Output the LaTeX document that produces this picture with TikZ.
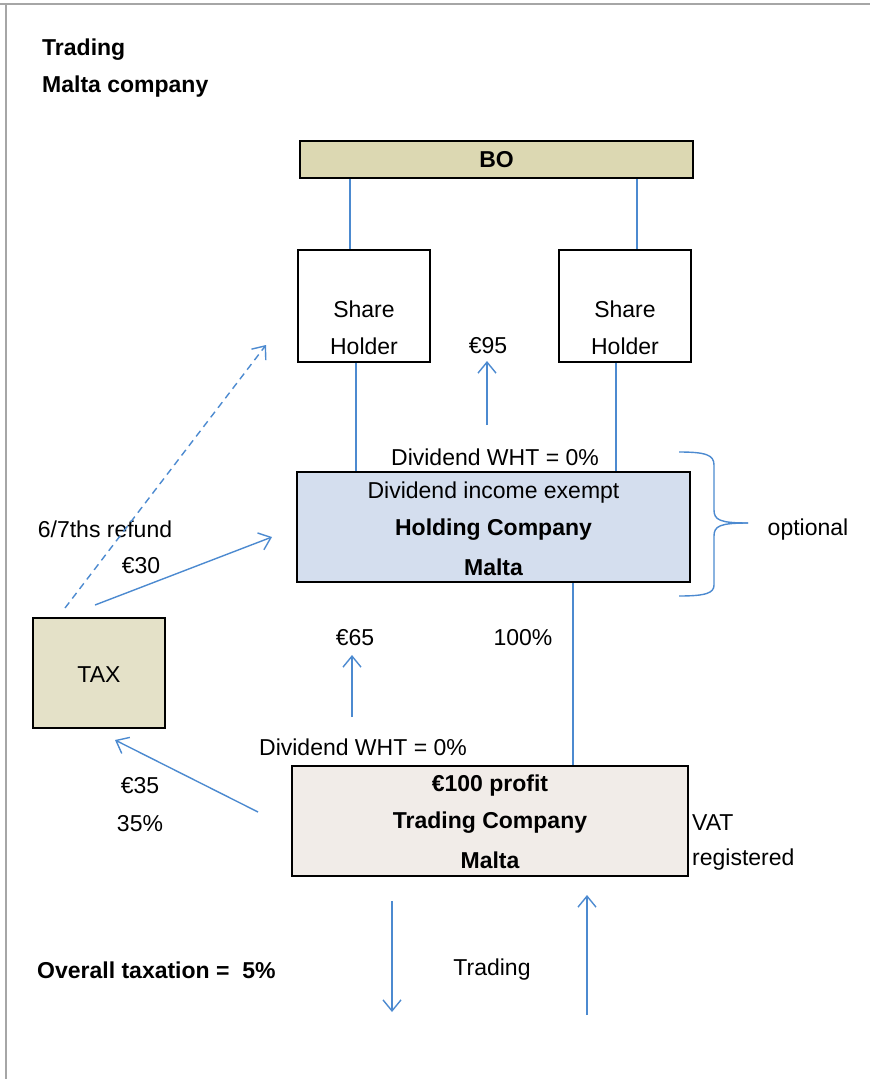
\documentclass[tikz,border=0pt]{standalone}
\usepackage{fontspec}
\setmainfont{Liberation Sans}
\usetikzlibrary{arrows.meta}
\definecolor{lnblue}{HTML}{4C8AD0}
\definecolor{khaki}{HTML}{DCD8B2}
\definecolor{khakilt}{HTML}{E4E1C8}
\definecolor{hcblue}{HTML}{D4DEEE}
\definecolor{tcpink}{HTML}{F1ECE8}
\tikzset{
  box/.style={draw=black, line width=2pt, minimum width=#1, inner sep=0pt},
  txt/.style={inner sep=0pt, font=\fontsize{23}{27}\selectfont},
  btxt/.style={txt, font=\fontsize{23}{27}\selectfont\bfseries},
  conn/.style={draw=lnblue, line width=1.4pt},
  arr/.style={conn, -{Straight Barb[length=11pt,width=18pt,line width=1.4pt]}},
  darr/.style={arr, dash pattern=on 7pt off 5pt}
}
\begin{document}
\begin{tikzpicture}[x=1pt,y=-1pt]
\useasboundingbox (0,0) rectangle (870,1079);
% page frame
\draw[gray!70, line width=1.5pt] (0,4) -- (870,4);
\draw[gray!70, line width=1.5pt] (6,4) -- (6,1079);
% titles
\node[btxt, anchor=west] (t1) at (42,50) {Trading};
\node[btxt, anchor=west] (t2) at (42,87) {Malta company};
% boxes
\node[box=393pt, minimum height=37pt, fill=khaki] (BO) at (496.5,159.5) {};
\node[btxt] (BOt) at (496.5,160) {BO};
\node[box=132pt, minimum height=112pt] (SH1) at (364,306) {};
\node[box=132pt, minimum height=112pt] (SH2) at (625,306) {};
\node[txt] (SH1a) at (364,309) {Share};
\node[txt] (SH1b) at (364,346) {Holder};
\node[txt] (SH2a) at (625,309) {Share};
\node[txt] (SH2b) at (625,346) {Holder};
\node[box=393pt, minimum height=110pt, fill=hcblue] (HC) at (493.5,527) {};
\node[txt] (HCa) at (493.5,493) {Dividend income exempt};
\node[btxt] (HCb) at (493.5,530) {Holding Company};
\node[btxt] (HCc) at (493.5,567) {Malta};
\node[box=132pt, minimum height=110pt, fill=khakilt] (TAX) at (99,673) {};
\node[txt] (TAXt) at (99,675) {TAX};
\node[box=396pt, minimum height=110pt, fill=tcpink] (TC) at (490,821) {};
\node[btxt] (TCa) at (490,786) {€100 profit};
\node[btxt] (TCb) at (490,823) {Trading Company};
\node[btxt] (TCc) at (490,860) {Malta};
% connectors
\draw[conn] (BO.south -| 350,0) -- (SH1.north -| 350,0);
\draw[conn] (BO.south -| 637,0) -- (SH2.north -| 637,0);
\draw[conn] (SH1.south -| 356,0) -- (HC.north -| 356,0);
\draw[conn] (SH2.south -| 616,0) -- (HC.north -| 616,0);
\draw[conn] (HC.south -| 573,0) -- (TC.north -| 573,0);
% labels
\node[txt] (l95) at (488,346) {€95};
\node[txt] (wht1) at (495,457) {Dividend WHT = 0\%};
\node[txt] (l65) at (355,638) {€65};
\node[txt] (l100) at (523,638) {100\%};
\node[txt] (wht2) at (363,747) {Dividend WHT = 0\%};
\node[txt] (ref) at (105,529) {6/7ths refund};
\node[txt] (l30) at (141,566) {€30};
\node[txt] (l35) at (140,786) {€35};
\node[txt] (p35) at (140,824) {35\%};
\node[txt, anchor=west] (vat1) at (692,823) {VAT};
\node[txt, anchor=west] (vat2) at (692,860) {registered};
\node[txt] (opt) at (808,530) {optional};
\node[txt] (trd) at (492,970) {Trading};
\node[btxt, anchor=west] (ovr) at (37,970) {Overall taxation =\ \ 5\%};
% free arrows
\coordinate (a95s) at (487,425); \coordinate (a95e) at (487,361);
\coordinate (a65s) at (352,717); \coordinate (a65e) at (352,655);
\coordinate (ds) at (65,608); \coordinate (de) at (266,345);
\coordinate (r30s) at (95,605); \coordinate (r30e) at (272,537);
\coordinate (t35s) at (258,812); \coordinate (t35e) at (115,740);
\coordinate (dns) at (392,901); \coordinate (dne) at (392,1012);
\coordinate (ups) at (587,1015); \coordinate (upe) at (587,895);
\draw[arr] (a95s) -- (a95e);
\draw[arr] (a65s) -- (a65e);
\draw[darr] (ds) -- (de);
\draw[arr] (r30s) -- (r30e);
\draw[arr] (t35s) -- (t35e);
\draw[arr] (dns) -- (dne);
\draw[arr] (ups) -- (upe);
% brace
\draw[conn] (679,452) .. controls (706,452) and (714,455) .. (714,465) -- (714,510)
  .. controls (714,520) and (720,523) .. (748,523);
\draw[conn] (748,523) .. controls (720,523) and (714,526) .. (714,536) -- (714,585)
  .. controls (714,593) and (706,596) .. (679,596);
\end{tikzpicture}
\end{document}
